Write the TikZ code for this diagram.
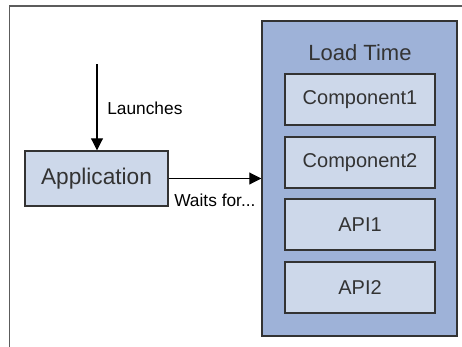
\documentclass[tikz,border=0pt]{standalone}
\usepackage{fontspec}
\setmainfont{Liberation Sans}
\usetikzlibrary{arrows.meta}
\definecolor{outerfill}{RGB}{158,178,216}
\definecolor{innerfill}{RGB}{205,216,234}
\definecolor{edge}{RGB}{51,51,51}
\begin{document}
\begin{tikzpicture}[x=0.75pt,y=-0.75pt,
  box/.style={draw=edge,line width=1.1pt,fill=innerfill,inner sep=0pt},
  group/.style={draw=edge,line width=1.1pt,fill=outerfill,inner sep=0pt},
  flow/.style={draw=black,line width=0.8pt,-{Triangle[length=9pt,width=9pt]}},
  lbl/.style={font=\fontsize{13}{15}\selectfont,inner sep=0pt,anchor=west}]
\useasboundingbox (0,0) rectangle (462,347);
% cropped outer frame: top and left edges only
\draw[draw=edge!80,line width=1.1pt] (9.5,347) -- (9.5,6) -- (462,6);
% load-time group
\node[group,minimum width=195*0.75pt,minimum height=315*0.75pt] (lt) at (359.5,178.5) {};
\node[font=\fontsize{16.5}{18}\selectfont,text=edge] (ltt) at (360,53) {Load Time};
\foreach \n/\t/\y in {c1/Component1/99.5,c2/Component2/162.5,a1/API1/224.5,a2/API2/287.5}{
  \node[box,minimum width=150*0.75pt,minimum height=51*0.75pt,
        font=\fontsize{15}{17}\selectfont,text=edge] (\n) at (360,\y) {\t};
}
% application
\node[box,minimum width=143*0.75pt,minimum height=55*0.75pt,
      font=\fontsize{17}{19}\selectfont,text=edge] (app) at (96.5,178.5) {Application};
% launch arrow
\coordinate (start) at (97,64);
\draw[flow] (start) -- (app.north -| start);
\node[lbl] (launch) at (107,108) {Launches};
% waits-for arrow
\draw[flow] (app.east) -- (app.east -| lt.west);
\node[lbl] (wait) at (174,200) {Waits for...};
\end{tikzpicture}
\end{document}
